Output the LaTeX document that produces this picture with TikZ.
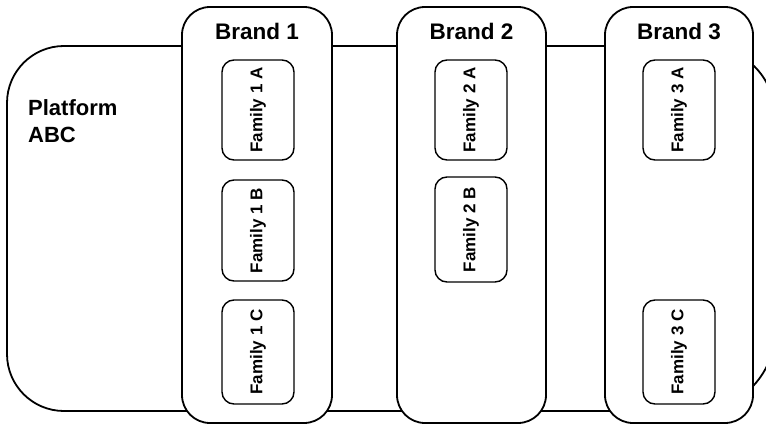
\documentclass[tikz,border=0pt]{standalone}
\usepackage{fontspec}
\setmainfont{Liberation Sans}
\begin{document}
\begin{tikzpicture}[x=1pt,y=1pt,
  platform/.style={draw=black,line width=1.8pt,fill=white},
  brandbox/.style={draw=black,line width=1.8pt,fill=white,rounded corners=28pt,
    minimum width=150pt,minimum height=416pt,inner sep=0pt},
  brandlabel/.style={font=\fontsize{22.5}{26}\selectfont\bfseries,inner sep=0pt,anchor=base},
  familybox/.style={draw=black,line width=1.4pt,fill=white,rounded corners=12pt,
    minimum width=72pt,inner sep=0pt},
  familylabel/.style={font=\fontsize{17}{19}\selectfont\bfseries,rotate=90,inner sep=0pt},
]
\useasboundingbox (0,0) rectangle (766,424);
\clip (0,0) rectangle (766,424);

% platform band behind the brand columns
\path[platform] (64,378) -- (705,378)
  arc[start angle=90,end angle=0,radius=70pt] -- (775,93)
  arc[start angle=0,end angle=-90,radius=80pt] -- (64,13)
  arc[start angle=270,end angle=180,radius=57pt] -- (7,321)
  arc[start angle=180,end angle=90,radius=57pt] -- cycle;
\node[anchor=base west,align=left,inner sep=0pt,
  font=\fontsize{22}{28}\selectfont\bfseries] (plat) at (28,281) {Platform\\ABC};

% brand columns
\node[brandbox] (b1) at (257,209) {};
\node[brandbox,minimum width=149pt] (b2) at (471.5,209) {};
\node[brandbox,minimum width=148pt] (b3) at (679,209) {};
\node[brandlabel] (b1t) at (257,384) {Brand 1};
\node[brandlabel] (b2t) at (471.5,384) {Brand 2};
\node[brandlabel] (b3t) at (679,384) {Brand 3};

% product families
\node[familybox,minimum height=100pt] (f1a) at (258,314) {};
\node[familybox,minimum height=101pt] (f1b) at (258,193.5) {};
\node[familybox,minimum height=104pt] (f1c) at (258,72) {};
\node[familybox,minimum height=100pt] (f2a) at (471,314) {};
\node[familybox,minimum height=105pt] (f2b) at (471,194.5) {};
\node[familybox,minimum height=100pt] (f3a) at (679,314) {};
\node[familybox,minimum height=104pt] (f3c) at (679,72) {};

\node[familylabel] at (f1a) {Family 1 A};
\node[familylabel] at (f1b) {Family 1 B};
\node[familylabel] at (f1c) {Family 1 C};
\node[familylabel] at (f2a) {Family 2 A};
\node[familylabel] at (f2b) {Family 2 B};
\node[familylabel] at (f3a) {Family 3 A};
\node[familylabel] at (f3c) {Family 3 C};
\end{tikzpicture}
\end{document}
